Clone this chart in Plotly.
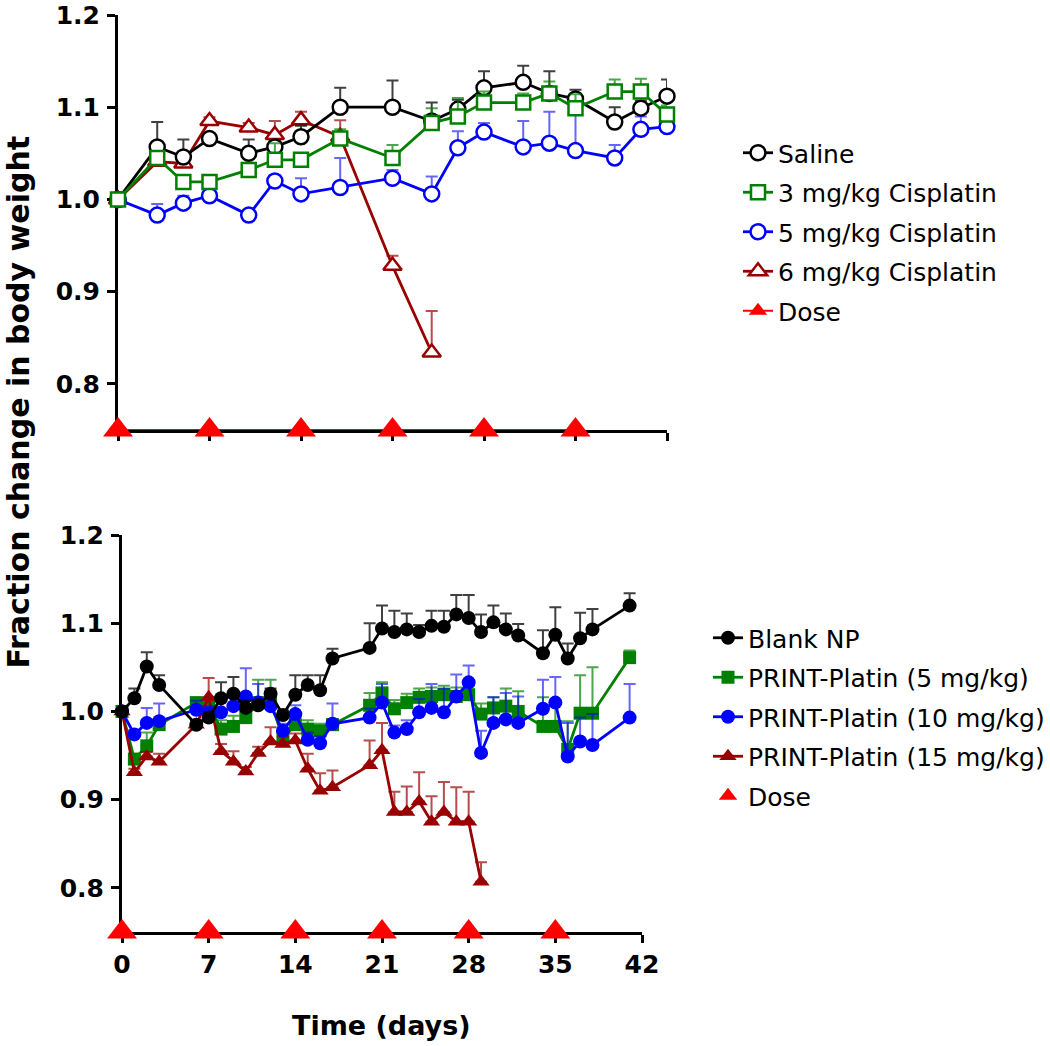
import plotly.graph_objects as go

# ---------------- data: top panel (free cisplatin) ----------------
top_days = [0, 3, 5, 7, 10, 12, 14, 17, 21, 24, 26, 28, 31, 33, 35, 38, 40, 42]
saline = [1.000, 1.057, 1.046, 1.066, 1.050, 1.057, 1.068, 1.100, 1.100, 1.085,
          1.098, 1.121, 1.127, 1.115, 1.109, 1.084, 1.099, 1.112]
saline_err = [0, 0.027, 0.019, 0.005, 0.015, 0.006, 0.012, 0.021, 0.029, 0.020,
              0.010, 0.018, 0.018, 0.024, 0.010, 0.016, 0.008, 0.018]
cis3 = [1.000, 1.045, 1.019, 1.019, 1.032, 1.043, 1.043, 1.066, 1.045, 1.083,
        1.090, 1.105, 1.105, 1.115, 1.099, 1.117, 1.117, 1.092]
cis3_err = [0, 0.004, 0.004, 0.004, 0.005, 0.018, 0.004, 0.010, 0.014, 0.016,
            0.020, 0.012, 0.010, 0.013, 0.015, 0.013, 0.014, 0.010]
cis5 = [1.000, 0.983, 0.996, 1.004, 0.983, 1.020, 1.006, 1.013, 1.023, 1.006,
        1.056, 1.073, 1.057, 1.061, 1.053, 1.045, 1.076, 1.079]
cis5_err = [0, 0.012, 0.008, 0.011, 0.004, 0.006, 0.017, 0.032, 0.009, 0.019,
            0.018, 0.010, 0.028, 0.034, 0.053, 0.014, 0.014, 0.008]
cis6_days = [0, 3, 5, 7, 10, 12, 14, 17, 21, 24]
cis6 = [1.000, 1.041, 1.039, 1.085, 1.078, 1.070, 1.086, 1.068, 0.928, 0.834]
cis6_err = [0, 0.004, 0.006, 0.004, 0.005, 0.015, 0.009, 0.018, 0.011, 0.045]

dose_days = [0, 7, 14, 21, 28, 35]
dose_level = [0.75, 0.75, 0.75, 0.75, 0.75, 0.75]

# ---------------- data: bottom panel (PRINT-Platin) ----------------
bot_days = [0, 1, 2, 3, 6, 7, 8, 9, 10, 11, 12, 13, 14, 15, 16, 17, 20, 21, 22,
            23, 24, 25, 26, 27, 28, 29, 30, 31, 32, 34, 35, 36, 37, 38, 41]
blank = [1.000, 1.015, 1.051, 1.030, 0.985, 0.993, 1.015, 1.020, 1.004, 1.007,
         1.020, 0.996, 1.019, 1.030, 1.024, 1.060, 1.072, 1.094, 1.090, 1.093,
         1.090, 1.097, 1.096, 1.110, 1.106, 1.090, 1.101, 1.093, 1.086, 1.066,
         1.087, 1.060, 1.083, 1.093, 1.120]
blank_err = [0, 0.011, 0.016, 0.011, 0.005, 0.006, 0.018, 0.019, 0.008, 0.006,
             0.006, 0.005, 0.022, 0.011, 0.017, 0.011, 0.028, 0.026, 0.024, 0.018,
             0.008, 0.017, 0.018, 0.022, 0.026, 0.020, 0.019, 0.018, 0.013, 0.026,
             0.031, 0.017, 0.029, 0.023, 0.014]
pp5 = [1.000, 0.946, 0.961, 0.985, 1.010, 1.008, 0.980, 0.983, 0.993, 1.010,
       1.012, 0.969, 0.985, 0.980, 0.978, 0.985, 1.007, 1.021, 1.003, 1.010,
       1.016, 1.017, 1.019, 1.017, 1.019, 0.997, 1.004, 1.006, 1.000, 0.983,
       0.983, 0.957, 0.998, 0.998, 1.061]
pp5_err = [0, 0.005, 0.015, 0.005, 0.005, 0.006, 0.010, 0.012, 0.010, 0.026,
           0.024, 0.008, 0.012, 0.010, 0.008, 0.006, 0.014, 0.012, 0.010, 0.010,
           0.010, 0.010, 0.010, 0.010, 0.010, 0.012, 0.012, 0.020, 0.023, 0.033,
           0.030, 0.032, 0.043, 0.052, 0.008]
pp10 = [1.000, 0.974, 0.987, 0.989, 1.002, 0.998, 0.999, 1.006, 1.017, 1.010,
        1.006, 0.978, 0.997, 0.968, 0.964, 0.986, 0.993, 1.010, 0.976, 0.980,
        0.999, 1.004, 0.999, 1.017, 1.033, 0.953, 0.987, 0.991, 0.987, 1.003,
        1.010, 0.949, 0.966, 0.962, 0.993]
pp10_err = [0, 0.005, 0.017, 0.020, 0.010, 0.008, 0.012, 0.015, 0.032, 0.021,
            0.010, 0.008, 0.010, 0.008, 0.008, 0.023, 0.010, 0.021, 0.008, 0.010,
            0.015, 0.027, 0.027, 0.025, 0.019, 0.025, 0.029, 0.030, 0.030, 0.033,
            0.029, 0.038, 0.027, 0.035, 0.038]
pp15_days = [0, 1, 2, 3, 6, 7, 8, 9, 10, 11, 12, 13, 14, 15, 16, 17, 20, 21, 22,
             23, 24, 25, 26, 27, 28, 29]
pp15 = [1.000, 0.931, 0.949, 0.943, 0.985, 1.016, 0.955, 0.943, 0.932, 0.953,
        0.966, 0.963, 0.967, 0.935, 0.910, 0.914, 0.939, 0.956, 0.886, 0.886,
        0.898, 0.875, 0.886, 0.875, 0.875, 0.807]
pp15_err = [0, 0.004, 0.005, 0.009, 0.005, 0.022, 0.008, 0.012, 0.005, 0.007,
            0.016, 0.008, 0.008, 0.017, 0.020, 0.019, 0.028, 0.031, 0.023, 0.029,
            0.033, 0.029, 0.034, 0.039, 0.034, 0.022]

x_ticks = [0, 7, 14, 21, 28, 35, 42]
y_ticks = [0.8, 0.9, 1.0, 1.1, 1.2]

BLACK = "#000000"
GREEN = "#008000"
BLUE = "#0000FF"
DARKRED = "#990000"
RED = "#FF0000"
ERRC = {BLACK: "rgba(0,0,0,0.75)", GREEN: "rgba(0,128,0,0.7)",
        BLUE: "rgba(0,0,255,0.6)", DARKRED: "rgba(153,0,0,0.7)"}

W, H = 1050, 1046
FONT = "DejaVu Sans"


def px_x(p):
    return p / W


def px_y(p):
    return 1 - p / H


fig = go.Figure()


def add_series(x, y, err, name, color, symbol, xa, ya, legend, rank, open_marker, size):
    marker = dict(symbol=symbol, size=size, color="white" if open_marker else color,
                  line=dict(color=color, width=2.5 if open_marker else 0))
    fig.add_trace(go.Scatter(
        x=x, y=y, name=name, mode="lines+markers", xaxis=xa, yaxis=ya,
        line=dict(color=color, width=2.8), marker=marker,
        error_y=dict(type="data", symmetric=False, array=err,
                     arrayminus=[0] * len(err), color=ERRC[color],
                     thickness=2, width=6),
        cliponaxis=False, legend=legend, legendrank=rank, legendgroup=name,
    ))


# top panel
add_series(cis6_days, cis6, cis6_err, "6 mg/kg Cisplatin", DARKRED, "triangle-up",
           "x", "y", "legend", 4, True, 16)
add_series(top_days, saline, saline_err, "Saline", BLACK, "circle",
           "x", "y", "legend", 1, True, 15)
add_series(top_days, cis5, cis5_err, "5 mg/kg Cisplatin", BLUE, "circle",
           "x", "y", "legend", 3, True, 15)
add_series(top_days, cis3, cis3_err, "3 mg/kg Cisplatin", GREEN, "square",
           "x", "y", "legend", 2, True, 14)
fig.add_trace(go.Scatter(
    x=dose_days, y=dose_level, name="Dose", mode="lines+markers",
    xaxis="x", yaxis="y", line=dict(color=RED, width=2),
    marker=dict(symbol="triangle-up", size=26, color=RED),
    cliponaxis=False, legend="legend", legendrank=5, legendgroup="Dose",
))

# bottom panel
add_series(bot_days, pp5, pp5_err, "PRINT-Platin (5 mg/kg)", GREEN, "square",
           "x2", "y2", "legend2", 2, False, 13)
add_series(pp15_days, pp15, pp15_err, "PRINT-Platin (15 mg/kg)", DARKRED, "triangle-up",
           "x2", "y2", "legend2", 4, False, 15)
add_series(bot_days, pp10, pp10_err, "PRINT-Platin (10 mg/kg)", BLUE, "circle",
           "x2", "y2", "legend2", 3, False, 14)
add_series(bot_days, blank, blank_err, "Blank NP", BLACK, "circle",
           "x2", "y2", "legend2", 1, False, 14)
fig.add_trace(go.Scatter(
    x=dose_days, y=dose_level, name="Dose", mode="markers",
    xaxis="x2", yaxis="y2",
    marker=dict(symbol="triangle-up", size=26, color=RED),
    cliponaxis=False, legend="legend2", legendrank=5, legendgroup="Dose2",
))

axis_common = dict(showline=True, linecolor="black", linewidth=3, ticks="outside",
                   ticklen=8, tickwidth=3, tickcolor="black", showgrid=False,
                   zeroline=False, layer="below traces", fixedrange=True,
                   automargin=False)
tick_font = dict(family=FONT, size=25, color="black", weight="bold")

fig.update_layout(
    width=W, height=H, autosize=False,
    margin=dict(l=0, r=0, t=0, b=0, pad=0),
    paper_bgcolor="white", plot_bgcolor="white",
    showlegend=True,
    xaxis=dict(domain=[px_x(118), px_x(667)], range=[0, 42], tickvals=x_ticks,
               showticklabels=False, anchor="y", **axis_common),
    yaxis=dict(domain=[px_y(430), px_y(15)], range=[0.75, 1.2], tickvals=y_ticks,
               tickformat=".1f", tickfont=tick_font, anchor="x",
               ticklabelstandoff=2, **axis_common),
    xaxis2=dict(domain=[px_x(122), px_x(642)], range=[0, 42], tickvals=x_ticks,
                tickfont=tick_font, anchor="y2", ticklabelstandoff=0, **axis_common),
    yaxis2=dict(domain=[px_y(932), px_y(535)], range=[0.75, 1.2], tickvals=y_ticks,
                tickformat=".1f", tickfont=tick_font, anchor="x2",
                ticklabelstandoff=2, **axis_common),
    legend=dict(x=px_x(738), y=px_y(130), xanchor="left", yanchor="top",
                font=dict(family=FONT, size=25, color="black"),
                bgcolor="rgba(0,0,0,0)", tracegroupgap=4, traceorder="grouped"),
    legend2=dict(x=1.0, y=px_y(615), xanchor="right", yanchor="top",
                 font=dict(family=FONT, size=25, color="black"),
                 bgcolor="rgba(0,0,0,0)", tracegroupgap=4, traceorder="grouped"),
    annotations=[
        dict(text="Fraction change in body weight", xref="paper", yref="paper",
             x=0.0, y=px_y(402), textangle=-90, showarrow=False,
             xanchor="left", yanchor="middle", borderpad=0,
             font=dict(family=FONT, size=30, color="black", weight="bold")),
        dict(text="Time (days)", xref="paper", yref="paper",
             x=px_x(381), y=px_y(1025), showarrow=False,
             xanchor="center", yanchor="middle",
             font=dict(family=FONT, size=27, color="black", weight="bold")),
    ],
)

fig.write_html("out.html", config={"displayModeBar": False},
               post_script="document.body.style.margin='0px';")
